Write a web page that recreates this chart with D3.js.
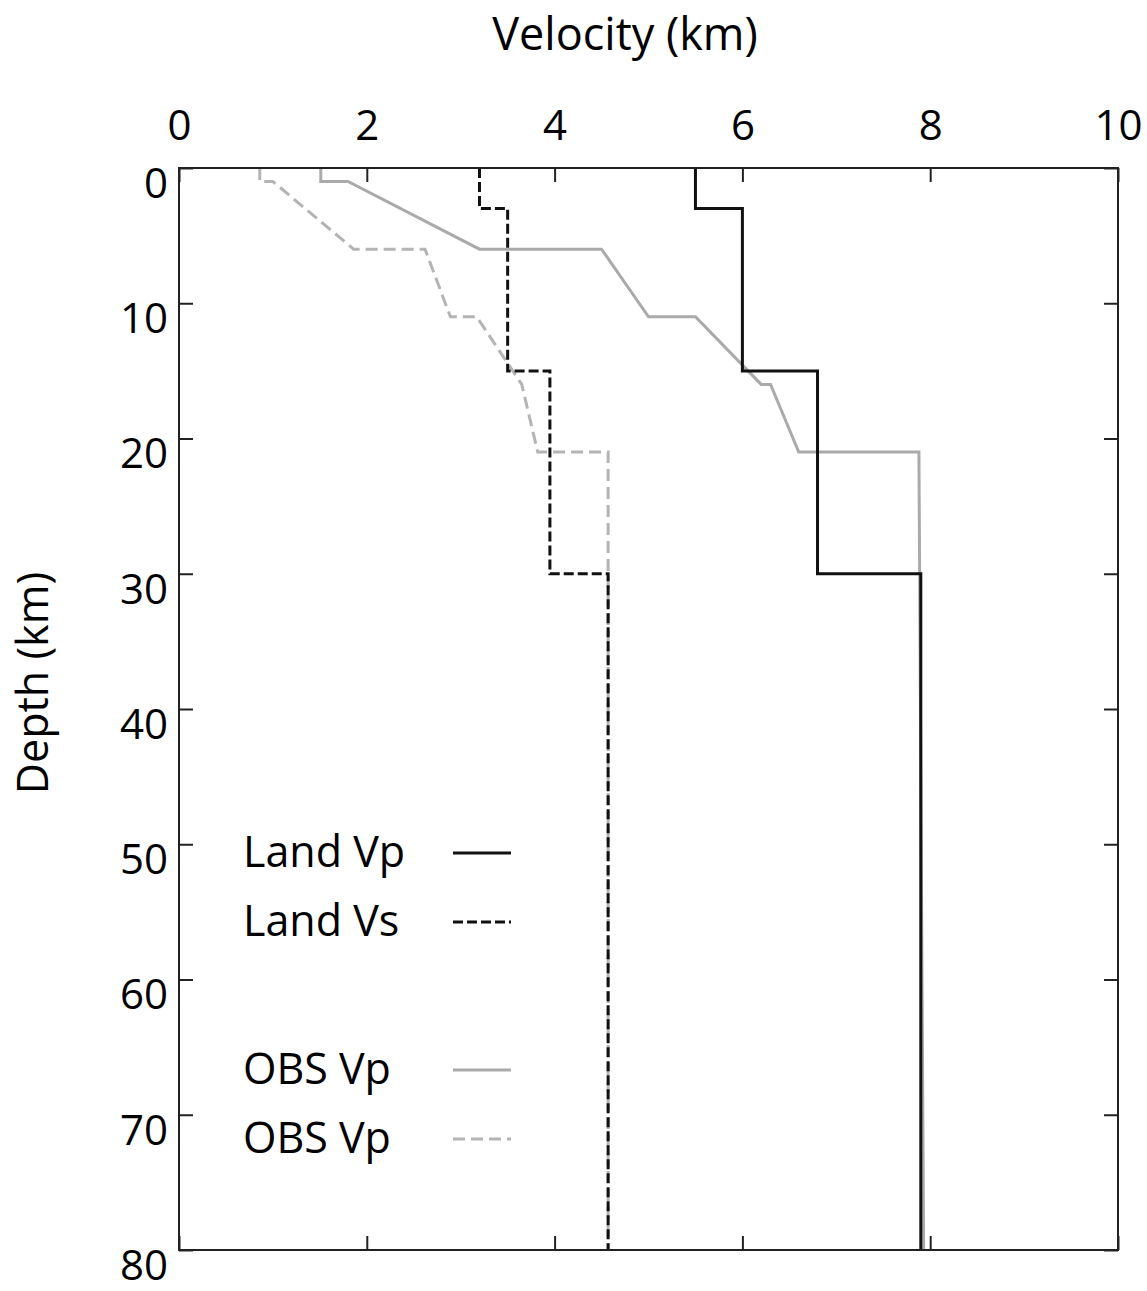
<!DOCTYPE html>
<html>
<head>
<meta charset="utf-8">
<script src="https://cdn.jsdelivr.net/npm/d3@7"></script>
<style>
  html, body { margin: 0; padding: 0; background: #fff; }
  svg { display: block; font-family: "Open Sans", "Noto Sans", sans-serif; }
</style>
</head>
<body>
<svg id="chart" width="1147" height="1291"></svg>
<script>
// Velocity profiles: velocity (km/s) at each depth node (km)
const landVpVel = [5.5, 5.5, 6.0, 6.0, 6.8, 6.8, 7.9, 7.9];
const landVpDep = [0, 3, 3, 15, 15, 30, 30, 80];

const landVsVel = [3.2, 3.2, 3.5, 3.5, 3.95, 3.95, 4.57, 4.57];
const landVsDep = [0, 3, 3, 15, 15, 30, 30, 80];

const obsVpVel = [1.51, 1.51, 1.8, 3.2, 4.5, 5.0, 5.5, 6.2, 6.3, 6.6, 7.88, 7.93];
const obsVpDep = [0, 1, 1, 6, 6, 11, 11, 16, 16, 21, 21, 80];

const obsVsVel = [0.86, 0.86, 1.0, 1.86, 2.62, 2.89, 3.17, 3.65, 3.82, 4.57, 4.57];
const obsVsDep = [0, 1, 1, 6, 6, 11, 11, 16, 21, 21, 80];

const legendLabels = ["Land Vp", "Land Vs", "OBS Vp", "OBS Vp"];
const velTicks = [0, 2, 4, 6, 8, 10];
const depthTicks = [0, 10, 20, 30, 40, 50, 60, 70, 80];

const fontStack = '"Open Sans", "Noto Sans", sans-serif';
const svg = d3.select("#chart");
const x = d3.scaleLinear().domain([0, 10]).range([179, 1118]);
const y = d3.scaleLinear().domain([0, 80]).range([168, 1250]);

const frameColor = "#222";
const tickLen = 14;

// series styles
const styles = [
  { color: "#111", dash: null, width: 3 },        // Land Vp
  { color: "#111", dash: "10,4", width: 3 },      // Land Vs
  { color: "#aaaaaa", dash: null, width: 3 },     // OBS Vp
  { color: "#b4b4b4", dash: "12,6", width: 3 }    // OBS (dashed)
];

const series = [
  { vel: landVpVel, dep: landVpDep, s: styles[0] },
  { vel: landVsVel, dep: landVsDep, s: styles[1] },
  { vel: obsVpVel, dep: obsVpDep, s: styles[2] },
  { vel: obsVsVel, dep: obsVsDep, s: styles[3] }
];

const line = d3.line().x(d => x(d[0])).y(d => y(d[1]));

// OBS profiles underneath, land profiles on top
const drawOrder = [2, 3, 0, 1];
const gLines = svg.append("g");
drawOrder.forEach(i => {
  const sr = series[i];
  const pts = sr.vel.map((v, k) => [v, sr.dep[k]]);
  gLines.append("path")
    .attr("d", line(pts))
    .attr("fill", "none")
    .attr("stroke", sr.s.color)
    .attr("stroke-width", sr.s.width)
    .attr("stroke-dasharray", sr.s.dash)
    .attr("stroke-linejoin", "miter");
});

// axes with inward ticks on all four sides
function styleAxis(g, showLabels) {
  g.attr("font-family", fontStack).attr("font-size", 42);
  g.select(".domain").remove();
  g.selectAll(".tick line").attr("stroke", frameColor).attr("stroke-width", 2);
  g.selectAll(".tick text")
    .attr("fill", "#000")
    .style("display", showLabels ? null : "none");
}

const topAxis = svg.append("g").attr("transform", `translate(0,${y(0)})`)
  .call(d3.axisTop(x).tickValues(velTicks).tickSize(-tickLen).tickPadding(28).tickFormat(d3.format("d")));
styleAxis(topAxis, true);

const bottomAxis = svg.append("g").attr("transform", `translate(0,${y(80)})`)
  .call(d3.axisBottom(x).tickValues(velTicks).tickSize(-tickLen));
styleAxis(bottomAxis, false);

const leftAxis = svg.append("g").attr("transform", `translate(${x(0)},0)`)
  .call(d3.axisLeft(y).tickValues(depthTicks).tickSize(-tickLen).tickPadding(11).tickFormat(d3.format("d")));
styleAxis(leftAxis, true);
leftAxis.selectAll(".tick text").attr("dy", "0.7em");

const rightAxis = svg.append("g").attr("transform", `translate(${x(10)},0)`)
  .call(d3.axisRight(y).tickValues(depthTicks).tickSize(-tickLen));
styleAxis(rightAxis, false);

// plot frame
svg.append("rect")
  .attr("x", x(0)).attr("y", y(0))
  .attr("width", x(10) - x(0)).attr("height", y(80) - y(0))
  .attr("fill", "none").attr("stroke", frameColor).attr("stroke-width", 2);

// axis titles
svg.append("text")
  .attr("x", 625).attr("y", 50)
  .attr("text-anchor", "middle")
  .style("font-size", "45px")
  .text("Velocity (km)");

svg.append("text")
  .attr("transform", "translate(48,683) rotate(-90)")
  .attr("text-anchor", "middle")
  .style("font-size", "43px")
  .text("Depth (km)");

// legend
const legendRows = [853, 922, 1070, 1139];
const legend = svg.append("g");
legendLabels.forEach((lab, i) => {
  const ly = legendRows[i];
  legend.append("text")
    .attr("x", 243).attr("y", ly + 14)
    .style("font-size", "43px")
    .text(lab);
  legend.append("line")
    .attr("x1", 453).attr("x2", 511)
    .attr("y1", ly).attr("y2", ly)
    .attr("stroke", styles[i].color)
    .attr("stroke-width", styles[i].width)
    .attr("stroke-dasharray", styles[i].dash);
});
</script>
</body>
</html>
